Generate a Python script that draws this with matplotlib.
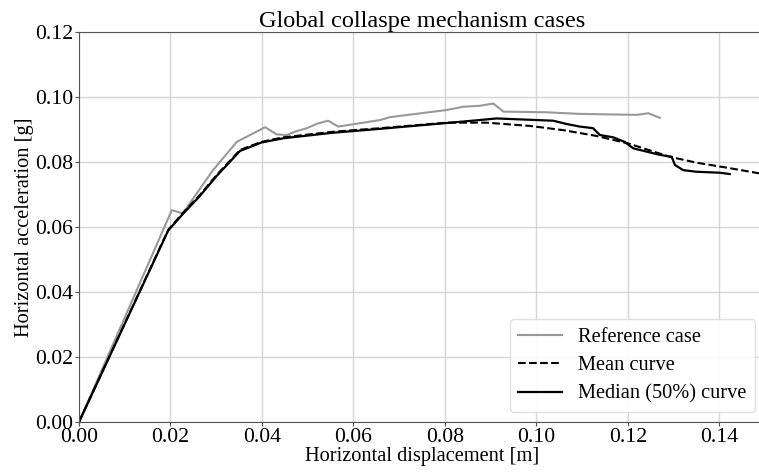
import numpy as np
import matplotlib
matplotlib.use("Agg")
import matplotlib.pyplot as plt

plt.rcParams['font.family'] = ['Liberation Serif', 'DejaVu Serif']
plt.rcParams['mathtext.fontset'] = 'stix'

# Reference case (grey)
ref_x = [0.0, 0.0203, 0.0227, 0.0293, 0.0345, 0.0367, 0.0407, 0.0432, 0.0454,
         0.0476, 0.0498, 0.0523, 0.0545, 0.0567, 0.0658, 0.068, 0.0804, 0.084,
         0.0877, 0.0906, 0.0928, 0.1022, 0.1095, 0.1219, 0.1245, 0.127]
ref_y = [0.0, 0.0652, 0.0642, 0.0775, 0.0862, 0.0878, 0.0907, 0.0885, 0.0883,
         0.0895, 0.0904, 0.0919, 0.0927, 0.0909, 0.0929, 0.0938, 0.0960, 0.0970,
         0.0973, 0.0980, 0.0955, 0.0953, 0.0948, 0.0945, 0.0950, 0.0936]

# Mean curve (dashed)
mean_x = [0.0, 0.0195, 0.0227, 0.0264, 0.0301, 0.0352, 0.0399, 0.0447, 0.0555,
          0.0658, 0.0804, 0.0891, 0.0986, 0.1059, 0.1132, 0.1201, 0.1292,
          0.135, 0.1423, 0.15]
mean_y = [0.0, 0.0591, 0.0643, 0.0698, 0.0760, 0.0837, 0.0862, 0.0876, 0.0893,
          0.0904, 0.0921, 0.0921, 0.0911, 0.0898, 0.0880, 0.0857, 0.0816,
          0.0798, 0.0781, 0.0762]

# Median (50%) curve (solid)
med_x = [0.0, 0.0195, 0.0227, 0.0264, 0.0301, 0.0352, 0.0399, 0.0447, 0.0555,
         0.0658, 0.0804, 0.0891, 0.0913, 0.1037, 0.1066, 0.1095, 0.1124, 0.1139,
         0.1168, 0.1193, 0.1212, 0.1241, 0.127, 0.1296, 0.1303, 0.1321, 0.135,
         0.1401, 0.1423]
med_y = [0.0, 0.0589, 0.0640, 0.0695, 0.0757, 0.0834, 0.0860, 0.0873, 0.0890,
         0.0902, 0.0920, 0.0931, 0.0934, 0.0927, 0.0917, 0.0909, 0.0904, 0.0883,
         0.0876, 0.0862, 0.0842, 0.0832, 0.0822, 0.0816, 0.0791, 0.0775, 0.0770,
         0.0767, 0.0763]

fig = plt.figure(figsize=(7.59, 4.76), dpi=100)
ax = fig.add_axes([79/759, 1 - 422/476, (765 - 79)/759, (422 - 32)/476])

ax.plot(ref_x, ref_y, color='#999999', lw=1.5, label='Reference case')
ax.plot(mean_x, mean_y, color='black', lw=1.5, ls='--', label='Mean curve')
ax.plot(med_x, med_y, color='black', lw=1.6, label='Median (50%) curve')

ax.set_xlim(0, 0.15)
ax.set_ylim(0, 0.12)
xt = np.arange(0, 0.141, 0.02)
yt = np.arange(0, 0.121, 0.02)
ax.set_xticks(xt)
ax.set_yticks(yt)
ax.set_xticklabels([f"{v:.2f}" for v in xt])
ax.set_yticklabels([f"{v:.2f}" for v in yt])
ax.tick_params(labelsize=15.7, length=3, color='#555555', pad=1)
ax.grid(True, color='#d5d5d5', lw=1)
ax.set_axisbelow(True)
for s in ax.spines.values():
    s.set_color('#555555')

ax.set_title("Global collaspe mechanism cases", fontsize=17.5, pad=2)
ax.set_xlabel("Horizontal displacement [m]", fontsize=14.7, labelpad=0)
ax.set_ylabel("Horizontal acceleration [g]", fontsize=14.7, labelpad=1)

ax.legend(loc='lower right', bbox_to_anchor=(755/759, 1 - 412/476),
          bbox_transform=fig.transFigure, borderaxespad=0, fontsize=14.7,
          handlelength=2.15, borderpad=0.4, labelspacing=0.45,
          handletextpad=0.8, framealpha=0.9, edgecolor='#dddddd')

fig.savefig("out.png", dpi=100)
